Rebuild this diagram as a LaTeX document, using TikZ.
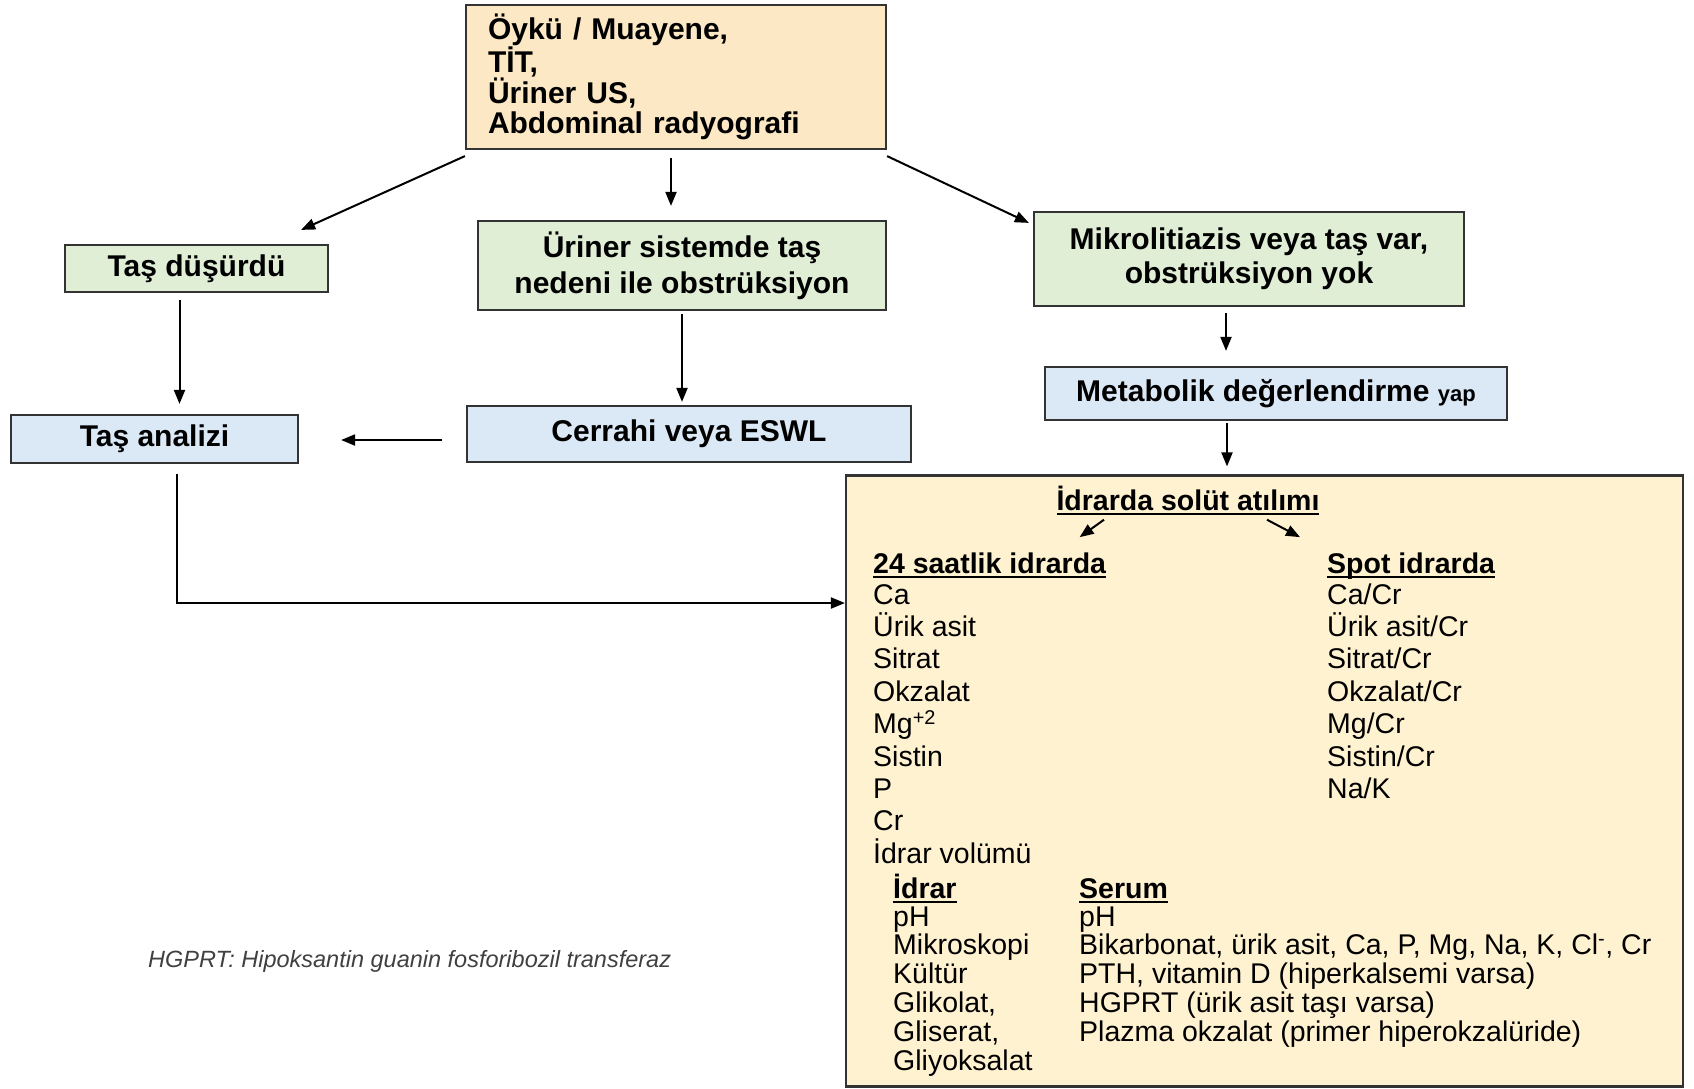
\documentclass[tikz,border=0pt]{standalone}
\usepackage{fontspec}
\setmainfont{Liberation Sans}
\usetikzlibrary{arrows.meta,positioning}

\definecolor{peach}{RGB}{252,232,196}
\definecolor{cream}{RGB}{255,242,208}
\definecolor{mint}{RGB}{224,238,214}
\definecolor{sky}{RGB}{219,232,246}

% bold text with a heavy underline
\newcommand{\hdr}[1]{\setbox0\hbox{\bfseries #1}\rlap{\rule[-4.5pt]{\wd0}{1.8pt}}\box0}

\begin{document}
\begin{tikzpicture}[%
	x=1pt,y=-1pt,>={Triangle[length=14pt,width=11pt]},
	box/.style={draw=black!80,line width=2.2pt,inner sep=0pt,align=center,
		font=\fontsize{30}{34}\selectfont\bfseries},
	green box/.style={box,fill=mint},
	blue box/.style={box,fill=sky},
	item/.style={anchor=base west,inner sep=0pt,font=\fontsize{28.5}{30}\selectfont},
	conn/.style={line width=2pt}]

	\useasboundingbox (0,0) rectangle (1694,1088);

	\node[box,fill=peach,minimum width=420pt,minimum height=144pt,align=left,text width=376pt,
		font=\fontsize{30}{30}\selectfont\bfseries]	(TOP)	at (676,77)
		{Öykü / Muayene,\\ TİT,\\ Üriner US,\\ Abdominal radyografi};
	\node[green box,minimum width=263pt,minimum height=47pt]	(TASD)	at (196.5,268.5)	{Taş düşürdü};
	\node[green box,minimum width=408pt,minimum height=89pt,font=\fontsize{30}{36}\selectfont\bfseries]
		(URIN)	at (682,265.5)	{Üriner sistemde taş\\ nedeni ile obstrüksiyon};
	\node[green box,minimum width=430pt,minimum height=94pt]	(MIKRO)	at (1249,259)
		{Mikrolitiazis veya taş var,\\ obstrüksiyon yok};
	\node[blue box,minimum width=462pt,minimum height=53pt]	(METAB)	at (1276,393.5)
		{Metabolik değerlendirme {\fontsize{22}{22}\selectfont yap}};
	\node[blue box,minimum width=287pt,minimum height=48pt]	(TASA)	at (154.5,439)	{Taş analizi};
	\node[blue box,minimum width=444pt,minimum height=56pt]	(CERR)	at (689,434)	{Cerrahi veya ESWL};
	\node[draw=black!80,line width=2.2pt,fill=cream,minimum width=837pt,minimum height=611pt,
		inner sep=0pt]	(BIG)	at (1264.5,781)	{};

	\path[->,conn] ([yshift=-6pt]TOP.south west) edge ([xshift=-28pt,yshift=14pt]TASD.north east);
	\draw[->,conn,shorten <=8pt,shorten >=14pt] ([xshift=-5pt]TOP.south) -- ([xshift=-5pt]TOP.south |- URIN.north);
	\path[->,conn] ([yshift=-6pt]TOP.south east) edge ([xshift=-4pt,yshift=-12pt]MIKRO.north west);
	\draw[->,conn,shorten <=7pt,shorten >=10pt] ([xshift=-17pt]TASD.south) -- ([xshift=-17pt]TASD.south |- TASA.north);
	\draw[->,conn,shorten <=3pt,shorten >=3pt] (URIN.south) -- (URIN.south |- CERR.north);
	\draw[->,conn,shorten <=24pt,shorten >=42pt] ([yshift=-6pt]CERR.west) -- ([yshift=-6pt]CERR.west -| TASA.east);
	\draw[->,conn,shorten <=6pt,shorten >=15pt] ([xshift=-23pt]MIKRO.south) -- ([xshift=-23pt]MIKRO.south |- METAB.north);
	\draw[->,conn,shorten <=2pt,shorten >=8pt] ([xshift=-49pt]METAB.south) -- ([xshift=-49pt]METAB.south |- BIG.north);
	\draw[->,conn,shorten <=10pt] ([xshift=22.5pt]TASA.south) |- ([yshift=178pt]BIG.west);

	% contents of the metabolic work-up box
	\node[item,anchor=base]	(SOLUT)	at (1188,510)	{\hdr{İdrarda solüt atılımı}};
	\node[item]	(H24)	at (873,573)	{\hdr{24 saatlik idrarda}};
	\node[item]	(HSPOT)	at (1327,573)	{\hdr{Spot idrarda}};
	\path[->,conn] ([xshift=-84pt,yshift=-5pt]SOLUT.south) edge ([xshift=90pt,yshift=15pt]H24.north);
	\path[->,conn] ([xshift=79pt,yshift=-5pt]SOLUT.south) edge ([xshift=-27pt,yshift=15pt]HSPOT.north west);

	\foreach \txt [count=\i] in {Ca,Ürik asit,Sitrat,Okzalat,Mg\textsuperscript{+2},Sistin,P,Cr,İdrar volümü}
		\node[item]	(L\i)	at (873,{604+32.4*(\i-1)})	{\txt};
	\foreach \txt [count=\i] in {Ca/Cr,Ürik asit/Cr,Sitrat/Cr,Okzalat/Cr,Mg/Cr,Sistin/Cr,Na/K}
		\node[item]	(R\i)	at (1327,{604+32.4*(\i-1)})	{\txt};

	\node[item]	(HIDR)	at (893,898)	{\hdr{İdrar}};
	\node[item]	(HSER)	at (1079,898)	{\hdr{Serum}};
	\foreach \txt [count=\i] in {pH,Mikroskopi,Kültür,{Glikolat,},{Gliserat,},Gliyoksalat}
		\node[item]	(I\i)	at (893,{926+28.8*(\i-1)})	{\txt};
	\foreach \txt [count=\i] in {pH,{Bikarbonat, ürik asit, Ca, P, Mg, Na, K, Cl\textsuperscript{-}, Cr},
		{PTH, vitamin D (hiperkalsemi varsa)},{HGPRT (ürik asit taşı varsa)},
		{Plazma okzalat (primer hiperokzalüride)}}
		\node[item]	(S\i)	at (1079,{926+28.8*(\i-1)})	{\txt};

	\node[inner sep=0pt,anchor=west,text=black!75,font=\fontsize{23.5}{23.5}\selectfont\itshape]	(NOTE)
		at (148,961)	{HGPRT: Hipoksantin guanin fosforibozil transferaz};

\end{tikzpicture}
\end{document}
